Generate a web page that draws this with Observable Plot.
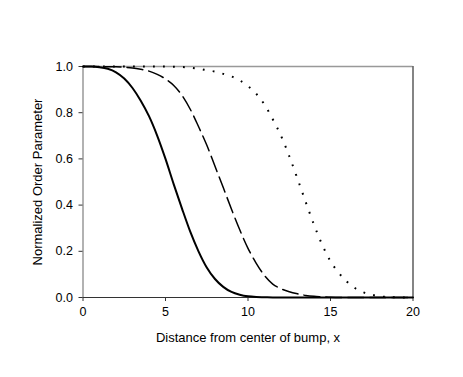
<!DOCTYPE html>
<html>
<head>
<meta charset="utf-8">
<script src="https://cdn.jsdelivr.net/npm/d3@7"></script>
<script src="https://cdn.jsdelivr.net/npm/@observablehq/plot@0.6"></script>
<style>
  html, body { margin: 0; padding: 0; background: #fff; }
  #chart svg { display: block; font-family: "Liberation Sans", Arial, sans-serif; }
</style>
</head>
<body>
<div id="chart"></div>
<script>
const xs = [0,0.5,1,1.5,2,2.5,3,3.5,4,4.5,5,5.5,6,6.5,7,7.5,8,8.5,9,9.5,10,10.5,11,11.5,12,12.5,13,13.5,14,14.5,15,15.5,16,16.5,17,17.5,18,18.5,19,19.5,20];
const solidY = [1,1,0.997,0.99,0.975,0.948,0.907,0.852,0.785,0.70,0.60,0.49,0.385,0.285,0.20,0.13,0.08,0.046,0.024,0.012,0.005,0.002,0.001,0,0,0,0,0,0,0,0,0,0,0,0,0,0,0,0,0,0];
const dashedY = [1,1,1,0.999,0.999,0.997,0.994,0.988,0.98,0.966,0.946,0.918,0.875,0.815,0.74,0.66,0.568,0.476,0.382,0.293,0.213,0.148,0.095,0.058,0.038,0.025,0.016,0.009,0.005,0.003,0.001,0,0,0,0,0,0,0,0,0,0];
const dottedY = [1,1,1,1,1,1,1,1,1,1,1,0.999,0.998,0.995,0.99,0.984,0.978,0.968,0.957,0.94,0.915,0.882,0.835,0.772,0.70,0.612,0.514,0.413,0.315,0.228,0.157,0.107,0.068,0.04,0.022,0.012,0.005,0.002,0.001,0,0];
const xTicks = [0,5,10,15,20];
const yTicks = [0,0.2,0.4,0.6,0.8,1.0];
const xLabel = "Distance from center of bump, x";
const yLabel = "Normalized Order Parameter";

const mk = (ys) => xs.map((x, i) => ({x, y: ys[i]}));
const solid = mk(solidY), dashed = mk(dashedY), dotted = mk(dottedY);

const chart = Plot.plot({
  width: 463,
  height: 377,
  marginLeft: 82.5,
  marginRight: 50.5,
  marginTop: 66,
  marginBottom: 80,
  style: {fontFamily: '"Liberation Sans", Arial, sans-serif', fontSize: "12px", color: "#000", background: "#fff"},
  x: {domain: [0, 20]},
  y: {domain: [0, 1]},
  marks: [
    Plot.ruleX([0], {stroke: "#999", strokeWidth: 1.5}),
    Plot.ruleY([1], {stroke: "#999", strokeWidth: 1.5}),
    Plot.ruleX([20], {stroke: "#333", strokeWidth: 1.2}),
    Plot.ruleY([0], {stroke: "#333", strokeWidth: 1.2}),
    Plot.axisX({ticks: xTicks, tickSize: 4, tickPadding: 6, tickFormat: d3.format("d"), fontSize: 12.5, stroke: "#333",
      label: xLabel, labelAnchor: "center", labelArrow: "none", labelOffset: 44}),
    Plot.axisY({ticks: yTicks, tickSize: 4, tickPadding: 6, tickFormat: d3.format(".1f"), fontSize: 12.5, stroke: "#333",
      label: yLabel, labelAnchor: "center", labelArrow: "none", labelOffset: 50}),
    Plot.line(dotted, {x: "x", y: "y", curve: "monotone-x", stroke: "#000", strokeWidth: 2, strokeDasharray: "1.8 8.2", strokeLinecap: "butt"}),
    Plot.line(dashed, {x: "x", y: "y", curve: "monotone-x", stroke: "#000", strokeWidth: 1.5, strokeDasharray: "16 6"}),
    Plot.line(solid, {x: "x", y: "y", curve: "monotone-x", stroke: "#000", strokeWidth: 2})
  ]
});
chart.querySelectorAll('[aria-label="x-axis label"] text, [aria-label="y-axis label"] text').forEach(t => t.setAttribute("font-size", "13"));
document.getElementById("chart").appendChild(chart);
</script>
</body>
</html>
